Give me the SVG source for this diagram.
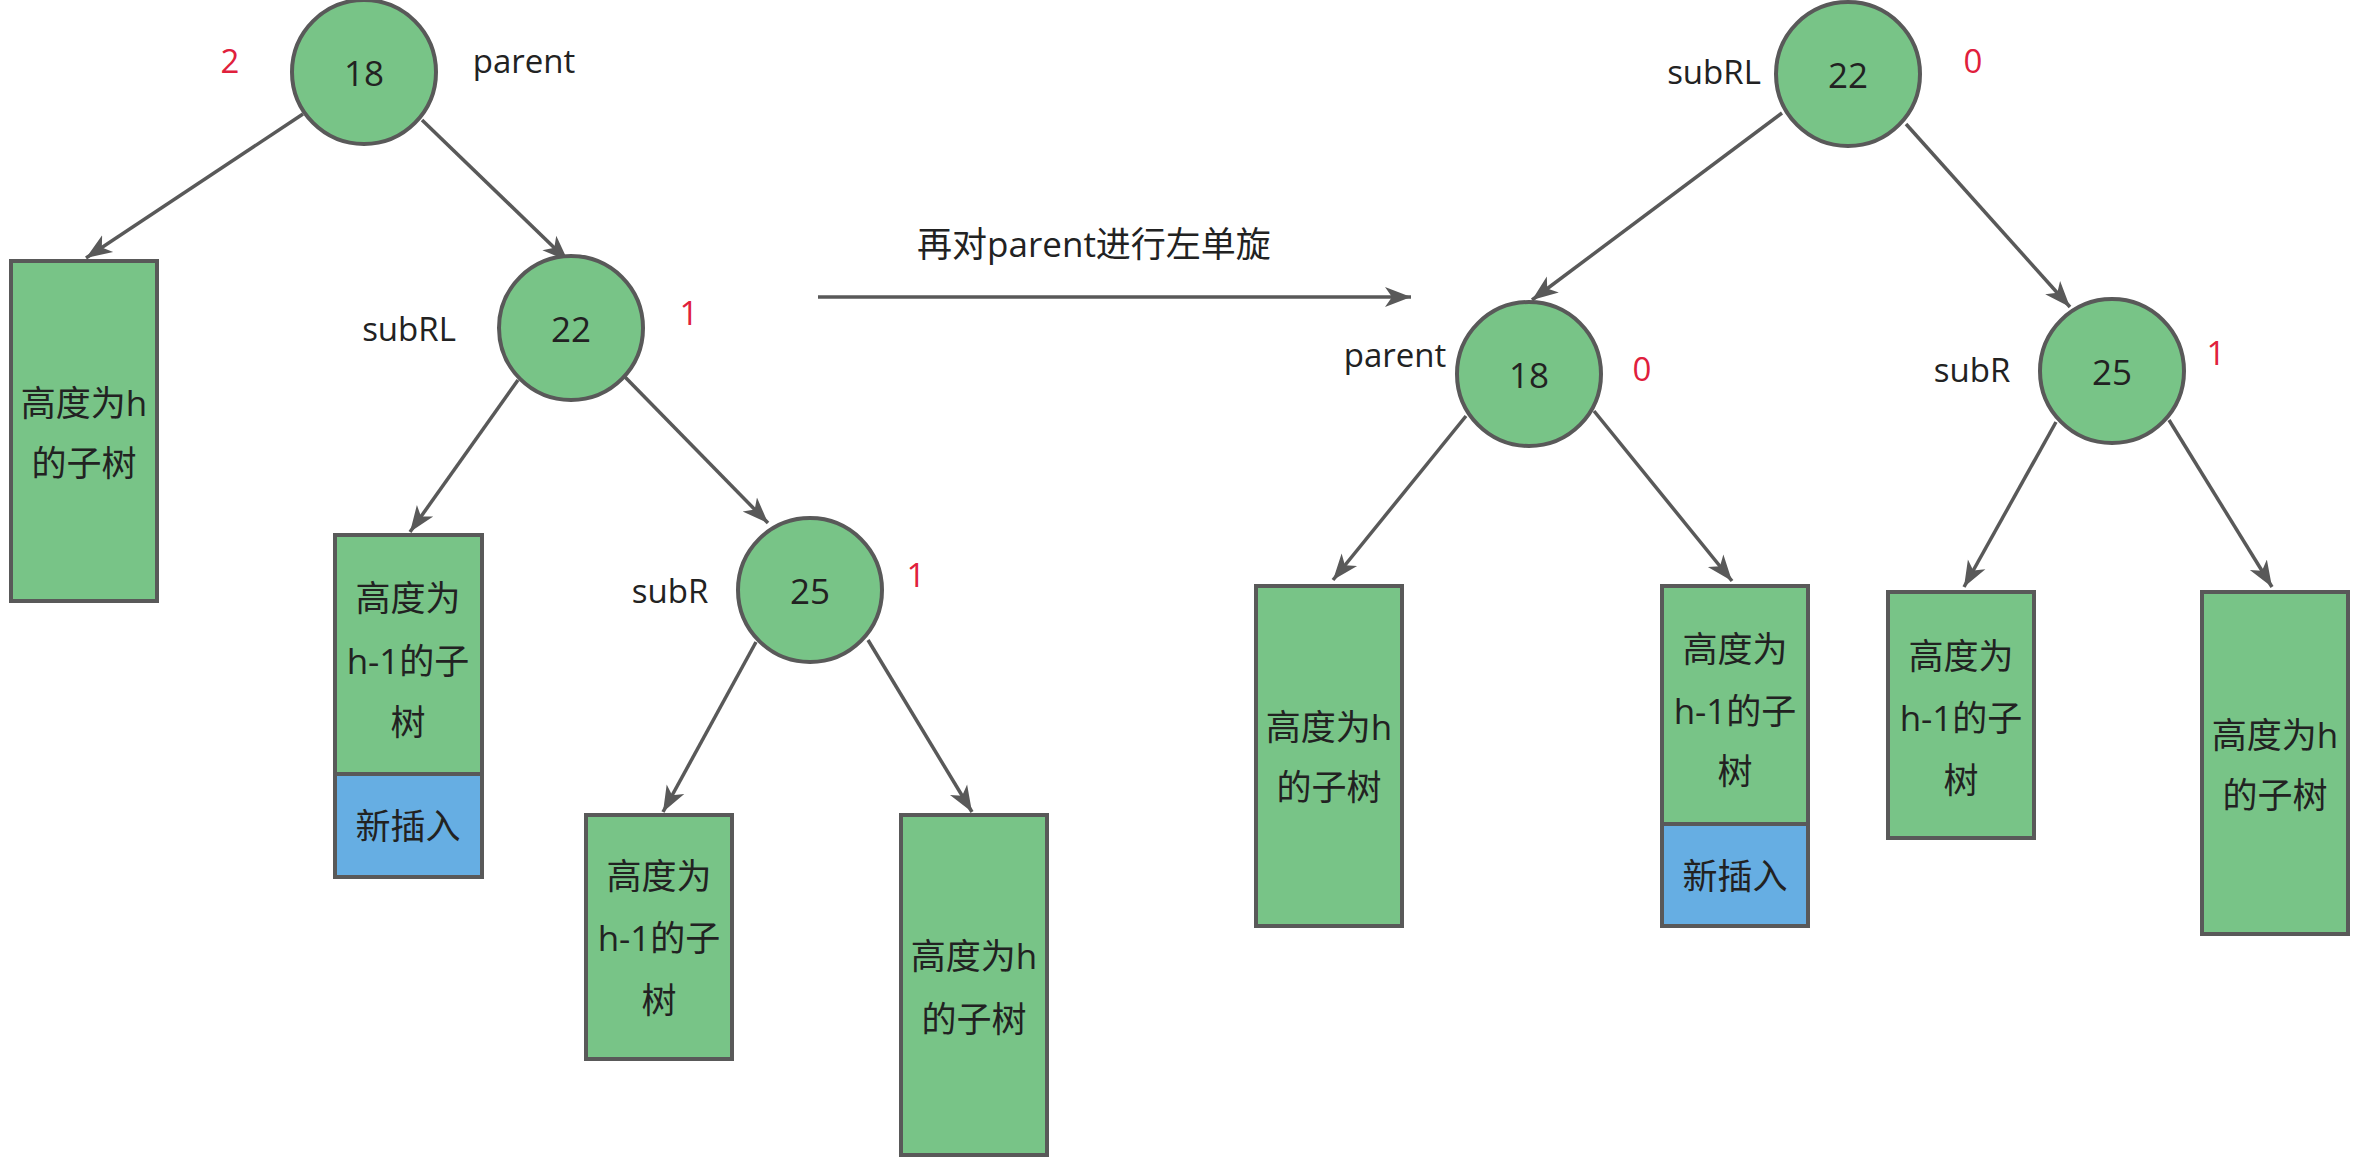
<svg xmlns="http://www.w3.org/2000/svg" width="2362" height="1161" viewBox="0 0 2362 1161">
<defs>
<style>
.c{fill:#78c487;stroke:#595959;stroke-width:4}
.r{fill:#78c487;stroke:#595959;stroke-width:4}
.b{fill:#66aee3;stroke:#595959;stroke-width:4}
.t{font-family:"Open Sans","Noto Sans CJK SC",sans-serif;font-size:35px;fill:#222;text-anchor:middle;dominant-baseline:central}
.l{font-family:"Open Sans","Noto Sans CJK SC",sans-serif;font-size:33px;fill:#222;text-anchor:middle;dominant-baseline:central}
.n{font-family:"Open Sans","Noto Sans CJK SC",sans-serif;font-size:33px;fill:#e0203c;text-anchor:middle;dominant-baseline:central}
.e{stroke:#595959;stroke-width:3.5;fill:none;marker-end:url(#a)}
</style>
<marker id="a" markerUnits="userSpaceOnUse" markerWidth="28" markerHeight="22" viewBox="0 0 28 22" refX="26" refY="11" orient="auto">
<path d="M0,1 L26,11 L0,21 L7,11 z" fill="#595959"/>
</marker>
</defs>
<rect width="2362" height="1161" fill="#fff"/>
<g id="connectors">
<line class="e" x1="303" y1="114" x2="86" y2="258"/>
<line class="e" x1="422" y1="120" x2="568" y2="261"/>
<line class="e" x1="518" y1="380" x2="410" y2="532"/>
<line class="e" x1="625" y1="377" x2="768" y2="523"/>
<line class="e" x1="756" y1="642" x2="663" y2="812"/>
<line class="e" x1="868" y1="640" x2="972" y2="812"/>
<line class="e" x1="818" y1="297" x2="1411" y2="297"/>
<line class="e" x1="1782" y1="113" x2="1532" y2="300"/>
<line class="e" x1="1906" y1="124" x2="2070" y2="307"/>
<line class="e" x1="1466" y1="416" x2="1333" y2="580"/>
<line class="e" x1="1594" y1="411" x2="1732" y2="581"/>
<line class="e" x1="2056" y1="422" x2="1964" y2="587"/>
<line class="e" x1="2169" y1="420" x2="2272" y2="587"/>
</g>
<text class="t" x="1094" y="243">再对parent进行左单旋</text>
<g id="L18">
<circle class="c" cx="364" cy="72" r="72"/>
<text class="t" x="364" y="72">18</text>
<text class="n" x="230" y="60">2</text>
<text class="l" x="524" y="60">parent</text>
</g>
<g id="Lh">
<rect class="r" x="11" y="261" width="146" height="340"/>
<text class="t" x="84" y="402">高度为h</text>
<text class="t" x="84" y="462">的子树</text>
</g>
<g id="L22">
<circle class="c" cx="571" cy="328" r="72"/>
<text class="t" x="571" y="328">22</text>
<text class="l" x="409" y="328">subRL</text>
<text class="n" x="689" y="312">1</text>
</g>
<g id="Lh1a">
<rect class="r" x="335" y="535" width="147" height="239"/>
<rect class="b" x="335" y="774" width="147" height="103"/>
<text class="t" x="408" y="597">高度为</text>
<text class="t" x="408" y="660">h-1的子</text>
<text class="t" x="408" y="721">树</text>
<text class="t" x="408" y="825">新插入</text>
</g>
<g id="L25">
<circle class="c" cx="810" cy="590" r="72"/>
<text class="t" x="810" y="590">25</text>
<text class="l" x="670" y="590">subR</text>
<text class="n" x="916" y="574">1</text>
</g>
<g id="Lh1b">
<rect class="r" x="586" y="815" width="146" height="244"/>
<text class="t" x="659" y="875">高度为</text>
<text class="t" x="659" y="937">h-1的子</text>
<text class="t" x="659" y="999">树</text>
</g>
<g id="Lh2">
<rect class="r" x="901" y="815" width="146" height="340"/>
<text class="t" x="974" y="955">高度为h</text>
<text class="t" x="974" y="1018">的子树</text>
</g>
<g id="R22">
<circle class="c" cx="1848" cy="74" r="72"/>
<text class="t" x="1848" y="74">22</text>
<text class="l" x="1714" y="71">subRL</text>
<text class="n" x="1973" y="60">0</text>
</g>
<g id="R18">
<circle class="c" cx="1529" cy="374" r="72"/>
<text class="t" x="1529" y="374">18</text>
<text class="l" x="1395" y="354">parent</text>
<text class="n" x="1642" y="368">0</text>
</g>
<g id="R25">
<circle class="c" cx="2112" cy="371" r="72"/>
<text class="t" x="2112" y="371">25</text>
<text class="l" x="1972" y="369">subR</text>
<text class="n" x="2216" y="352">1</text>
</g>
<g id="Rh">
<rect class="r" x="1256" y="586" width="146" height="340"/>
<text class="t" x="1329" y="726">高度为h</text>
<text class="t" x="1329" y="786">的子树</text>
</g>
<g id="Rh1a">
<rect class="r" x="1662" y="586" width="146" height="238"/>
<rect class="b" x="1662" y="824" width="146" height="102"/>
<text class="t" x="1735" y="648">高度为</text>
<text class="t" x="1735" y="710">h-1的子</text>
<text class="t" x="1735" y="770">树</text>
<text class="t" x="1735" y="875">新插入</text>
</g>
<g id="Rh1b">
<rect class="r" x="1888" y="592" width="146" height="246"/>
<text class="t" x="1961" y="655">高度为</text>
<text class="t" x="1961" y="717">h-1的子</text>
<text class="t" x="1961" y="779">树</text>
</g>
<g id="Rh2">
<rect class="r" x="2202" y="592" width="146" height="342"/>
<text class="t" x="2275" y="734">高度为h</text>
<text class="t" x="2275" y="794">的子树</text>
</g>
</svg>
